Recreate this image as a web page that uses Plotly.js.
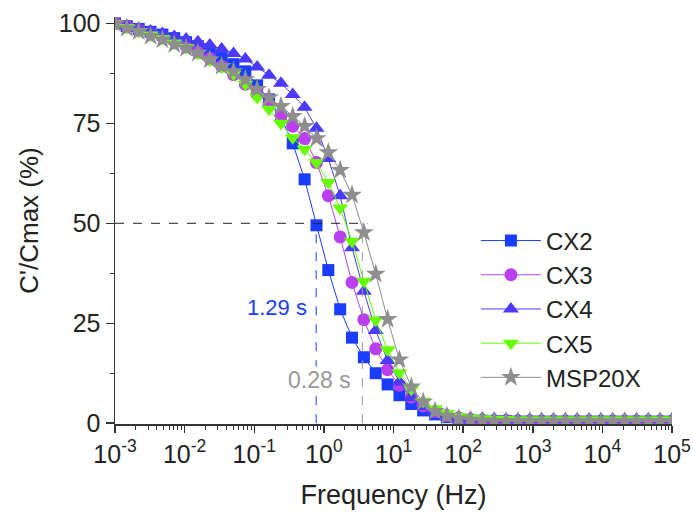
<!DOCTYPE html>
<html><head><meta charset="utf-8">
<script src="https://cdn.plot.ly/plotly-3.0.1.min.js"></script>
<style>body{margin:0;background:#fff}#chart{width:693px;height:523px}</style>
</head><body><div id="chart"></div>
<script>
// Frequency points (Hz), log-spaced from 1e-3 to 1e5
const freq = [0.001, 0.00148, 0.00219, 0.00324, 0.0048, 0.0071, 0.0105, 0.0155, 0.023, 0.034,
  0.0504, 0.0745, 0.110, 0.163, 0.242, 0.357, 0.529, 0.783, 1.158, 1.714,
  2.536, 3.754, 5.555, 8.222, 12.17, 18.0, 26.65, 39.43, 58.34, 86.34,
  127.8, 189.1, 279.8, 414.0, 612.7, 906.7, 1342, 1986, 2938, 4348,
  6435, 9522, 14091, 20853, 30859, 45667, 67581, 100000];

const cx2 = [100, 99.3, 98.6, 97.9, 97.2, 96.3, 95.3, 94.3, 93.0, 91.5,
  89.8, 88.0, 84.5, 81.0, 76.5, 70.0, 61.0, 49.5, 38.3, 28.5,
  21.4, 16.5, 12.5, 9.7, 7.0, 4.8, 3.2, 2.2, 1.5, 1.0,
  0.7, 0.6, 0.5, 0.5, 0.4, 0.4, 0.4, 0.4, 0.4, 0.4,
  0.4, 0.4, 0.4, 0.4, 0.4, 0.4, 0.4, 0.4];

const cx3 = [100, 99.2, 98.4, 97.6, 96.7, 95.6, 94.3, 92.8, 91.2, 89.3,
  87.2, 84.8, 82.3, 79.7, 76.8, 74.3, 71.2, 65.2, 56.9, 46.6,
  35.2, 25.9, 18.6, 13.4, 9.5, 6.5, 4.3, 2.9, 1.9, 1.3,
  0.9, 0.7, 0.6, 0.6, 0.5, 0.5, 0.5, 0.5, 0.5, 0.5,
  0.5, 0.5, 0.5, 0.5, 0.5, 0.5, 0.5, 0.5];

const cx4 = [100, 99.4, 98.8, 98.1, 97.5, 96.7, 96.1, 95.4, 94.6, 93.6,
  92.5, 91.1, 89.1, 87.0, 85.0, 82.2, 79.0, 73.8, 66.2, 56.9,
  43.9, 33.0, 23.2, 15.7, 10.3, 6.4, 4.2, 2.9, 2.1, 1.6,
  1.3, 1.2, 1.1, 1.0, 1.0, 1.0, 1.0, 1.0, 1.0, 1.0,
  1.0, 1.0, 1.0, 1.0, 1.0, 1.0, 1.0, 1.0];

const cx5 = [100, 99.0, 98.0, 97.1, 96.2, 95.1, 94.0, 92.5, 90.8, 89.1,
  87.3, 84.8, 81.5, 78.5, 75.0, 71.4, 68.5, 65.2, 60.2, 53.8,
  45.5, 35.5, 25.8, 18.4, 12.6, 8.5, 5.5, 3.6, 2.4, 1.7,
  1.3, 1.1, 1.0, 0.9, 0.8, 0.8, 0.8, 0.8, 0.8, 0.8,
  0.8, 0.8, 0.8, 0.8, 0.8, 0.8, 0.8, 0.8];

const msp20x = [100, 98.8, 98.0, 96.8, 95.9, 94.7, 93.8, 92.6, 90.9, 89.3,
  88.0, 86.0, 83.5, 81.4, 79.3, 76.8, 74.3, 71.2, 67.7, 63.3,
  57.1, 47.7, 37.3, 26.0, 15.9, 9.1, 5.3, 3.0, 1.8, 1.2,
  0.8, 0.6, 0.5, 0.4, 0.4, 0.4, 0.4, 0.4, 0.4, 0.4,
  0.4, 0.4, 0.4, 0.4, 0.4, 0.4, 0.4, 0.4];

const seriesNames = ['CX2', 'CX3', 'CX4', 'CX5', 'MSP20X'];
const seriesData = [cx2, cx3, cx4, cx5, msp20x];

// Relaxation time constants marked on the chart
const tauValues = [1.29, 0.28];
const tauLabels = ['1.29 s', '0.28 s'];
const halfLevel = 50;

const xTickVals = [1e-3, 1e-2, 1e-1, 1e0, 1e1, 1e2, 1e3, 1e4, 1e5];
const xTickText = ['10<sup>-3</sup>', '10<sup>-2</sup>', '10<sup>-1</sup>', '10<sup>0</sup>', '10<sup>1</sup>',
  '10<sup>2</sup>', '10<sup>3</sup>', '10<sup>4</sup>', '10<sup>5</sup>'];
const yTickVals = [0, 25, 50, 75, 100];

const colors = ['#1a3cff', '#bb3ff0', '#4a3aff', '#66ff00', '#8e8e8e'];
const symbols = ['square', 'circle', 'triangle-up', 'triangle-down', 'star'];
const sizes = [12, 13, 14, 14, 15];

const traces = seriesNames.map((n, i) => ({
  type: 'scatter', mode: 'lines+markers', name: n,
  x: freq, y: seriesData[i],
  line: {color: colors[i], width: 1},
  marker: {symbol: symbols[i], size: sizes[i], color: colors[i], line: {width: 0}}
}));

const tauFreq = tauValues.map(t => 1 / t);
const tauColors = ['#1a3cff', '#999999'];

const shapes = [
  {type: 'line', xref: 'x', yref: 'y', x0: freq[0], x1: tauFreq[1] * 1.18, y0: halfLevel, y1: halfLevel,
   line: {color: '#222', width: 1, dash: 'dash'}},
  {type: 'line', xref: 'x', yref: 'y', x0: tauFreq[0], x1: tauFreq[0], y0: 0, y1: halfLevel,
   line: {color: tauColors[0], width: 1, dash: 'dash'}},
  {type: 'line', xref: 'x', yref: 'y', x0: tauFreq[1], x1: tauFreq[1], y0: 0, y1: halfLevel,
   line: {color: tauColors[1], width: 1, dash: 'dash'}}
];

const annotations = [
  {xref: 'x', yref: 'y', x: Math.log10(tauFreq[0]), y: 29, text: tauLabels[0], showarrow: false,
   xanchor: 'right', xshift: -7, font: {size: 22, color: tauColors[0]}},
  {xref: 'x', yref: 'y', x: Math.log10(tauFreq[1]), y: 10.8, text: tauLabels[1], showarrow: false,
   xanchor: 'right', xshift: -10, bgcolor: '#ffffff', borderpad: 0,
   font: {size: 23, color: tauColors[1]}}
];

const axisColor = '#333';
const layout = {
  width: 693, height: 523,
  margin: {l: 115, r: 21, t: 17, b: 99},
  paper_bgcolor: '#fff', plot_bgcolor: '#fff',
  font: {family: 'Arial, "Liberation Sans", sans-serif', size: 25, color: '#222'},
  showlegend: true,
  xaxis: {
    type: 'log', range: [-3, 5], tickmode: 'array', tickvals: xTickVals, ticktext: xTickText,
    ticks: 'outside', ticklen: 7, tickwidth: 1.5, tickcolor: axisColor,
    showline: true, linecolor: axisColor, linewidth: 1.5, showgrid: false, zeroline: false,
    tickfont: {size: 25},
    minor: {ticks: 'outside', ticklen: 4, tickwidth: 1, tickcolor: axisColor, dtick: 'D1', showgrid: false},
    title: {text: 'Frequency (Hz)', font: {size: 27}, standoff: 18}
  },
  yaxis: {
    range: [-0.2, 101.6], tickmode: 'array', tickvals: yTickVals,
    ticks: 'outside', ticklen: 8, tickwidth: 1.5, tickcolor: axisColor,
    showline: true, linecolor: axisColor, linewidth: 1.5, showgrid: false, zeroline: false,
    tickfont: {size: 25},
    minor: {ticks: 'outside', ticklen: 4, tickwidth: 1, tickcolor: axisColor, dtick: 12.5, showgrid: false},
    title: {text: "C'/Cmax (%)", font: {size: 26}, standoff: 12}
  },
  legend: {x: 0.648, y: 0.505, xanchor: 'left', yanchor: 'top', bgcolor: 'rgba(0,0,0,0)',
    font: {size: 24}, tracegroupgap: 0, itemwidth: 60},
  shapes: shapes,
  annotations: annotations
};

Plotly.newPlot('chart', traces, layout, {displayModeBar: false, staticPlot: true});
</script>
</body></html>
